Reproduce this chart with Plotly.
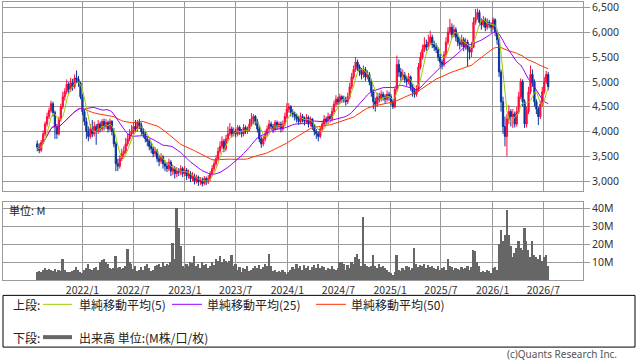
import pandas as pd
import plotly.graph_objects as go

# ---------------- data (weekly) ----------------
start_date = "2021-07-24"

close = [
    3680, 3620, 3780, 3950, 4150, 4300, 4420, 4560, 4380, 4100,
    3950, 4250, 4500, 4700, 4800, 4950, 4850, 4980, 4900, 5080,
    5050, 4980, 4700, 4400, 4200, 4000, 3900, 4050, 3950, 4100,
    4000, 4150, 4050, 4200, 4100, 4180, 4050, 4200, 4000, 3750,
    3350, 3300, 3450, 3550, 3600, 3750, 3850, 3950, 4000, 4100,
    4050, 4180, 4120, 4000, 3950, 3850, 3800, 3700, 3650, 3550,
    3600, 3450, 3400, 3480, 3350, 3300, 3250, 3380, 3200, 3250,
    3150, 3200, 3180, 3250, 3150, 3220, 3100, 3150, 3050, 3100,
    3000, 3080, 2980, 3020, 2950, 3050, 2980, 3050, 3150, 3250,
    3350, 3450, 3600, 3700, 3800, 3650, 3850, 3950, 4050, 3950,
    4000, 3950, 4080, 4000, 3950, 4080, 4000, 4050, 4150, 4250,
    4300, 4200, 4050, 3850, 3750, 3850, 3950, 4050, 4150, 4100,
    4050, 4180, 4100, 4150, 4050, 4150, 4300, 4450, 4500, 4380,
    4350, 4300, 4250, 4200, 4300, 4250, 4200, 4280, 4150, 4250,
    4100, 4000, 3950, 3900, 4050, 4150, 4250, 4200, 4300, 4250,
    4400, 4550, 4650, 4600, 4700, 4650, 4650, 4600, 4700, 4900,
    5100, 5250, 5400, 5300, 5200, 5150, 5250, 5100, 5150, 5000,
    4800, 4600, 4550, 4700, 4650, 4750, 4700, 4650, 4750, 4700,
    4600, 4500, 4850, 5350, 5200, 5100, 5150, 5050, 5000, 5100,
    4900, 4800, 4750, 4850, 5300, 5500, 5650, 5750, 5700, 5800,
    5900, 5750, 5700, 5650, 5500, 5400, 5350, 5550, 5800, 6000,
    6100, 5950, 6050, 5900, 5800, 5750, 5850, 5700, 5800, 5650,
    5600, 5700, 6200, 6300, 6400, 6200, 6150, 6250, 6100, 6200,
    6150, 6100, 6250, 6000, 5850, 5200, 4600, 4100, 3900, 4250,
    4400, 4300, 4350, 4150, 4400, 4700, 5000, 4600, 4150, 4400,
    4800, 5150, 5000, 4600, 4450, 4300, 4550, 4800, 5000, 5150,
    4900,
]

open_ = [
    3750, 3680, 3620, 3780, 3950, 4150, 4300, 4420, 4560, 4380,
    4100, 3950, 4250, 4500, 4700, 4800, 4950, 4850, 4980, 4900,
    5080, 5050, 4980, 4700, 4400, 4200, 4000, 3900, 4050, 3950,
    4100, 4000, 4150, 4050, 4200, 4100, 4180, 4050, 4200, 4000,
    3750, 3350, 3300, 3450, 3550, 3600, 3750, 3850, 3950, 4000,
    4100, 4050, 4180, 4120, 4000, 3950, 3850, 3800, 3700, 3650,
    3550, 3600, 3450, 3400, 3480, 3350, 3300, 3250, 3380, 3200,
    3250, 3150, 3200, 3180, 3250, 3150, 3220, 3100, 3150, 3050,
    3100, 3000, 3080, 2980, 3020, 2950, 3050, 2980, 3050, 3150,
    3250, 3350, 3450, 3600, 3700, 3800, 3650, 3850, 3950, 4050,
    3950, 4000, 3950, 4080, 4000, 3950, 4080, 4000, 4050, 4150,
    4250, 4300, 4200, 4050, 3850, 3750, 3850, 3950, 4050, 4150,
    4100, 4050, 4180, 4100, 4150, 4050, 4150, 4300, 4450, 4500,
    4380, 4350, 4300, 4250, 4200, 4300, 4250, 4200, 4280, 4150,
    4250, 4100, 4000, 3950, 3900, 4050, 4150, 4250, 4200, 4300,
    4250, 4400, 4550, 4650, 4600, 4700, 4650, 4650, 4600, 4700,
    4900, 5100, 5250, 5400, 5300, 5200, 5150, 5250, 5100, 5150,
    5000, 4800, 4600, 4550, 4700, 4650, 4750, 4700, 4650, 4750,
    4700, 4600, 4500, 4850, 5350, 5200, 5100, 5150, 5050, 5000,
    5100, 4900, 4800, 4750, 4850, 5300, 5500, 5650, 5750, 5700,
    5800, 5900, 5750, 5700, 5650, 5500, 5400, 5350, 5550, 5800,
    6000, 6100, 5950, 6050, 5900, 5800, 5750, 5850, 5700, 5800,
    5650, 5600, 5700, 6200, 6300, 6400, 6200, 6150, 6250, 6100,
    6200, 6150, 6100, 6250, 6000, 5850, 5200, 4600, 4100, 3900,
    4250, 4400, 4300, 4350, 4150, 4400, 4700, 5000, 4600, 4150,
    4400, 4800, 5150, 5000, 4600, 4450, 4300, 4550, 4800, 5000,
    5150,
]

high = [
    3820, 3760, 3830, 4020, 4200, 4380, 4480, 4620, 4600, 4420,
    4150, 4300, 4560, 4800, 4870, 5050, 5000, 5080, 5060, 5150,
    5230, 5120, 5000, 4750, 4450, 4280, 4100, 4150, 4230, 4200,
    4150, 4230, 4200, 4250, 4260, 4250, 4220, 4260, 4230, 4070,
    3800, 3450, 3520, 3650, 3700, 3870, 3950, 4050, 4130, 4180,
    4230, 4230, 4250, 4180, 4070, 4000, 3900, 3850, 3780, 3700,
    3680, 3650, 3520, 3560, 3520, 3420, 3380, 3450, 3420, 3330,
    3300, 3280, 3260, 3320, 3290, 3300, 3260, 3230, 3200, 3180,
    3150, 3130, 3110, 3080, 3070, 3100, 3090, 3120, 3200, 3320,
    3420, 3520, 3680, 3800, 3900, 3850, 3930, 4100, 4170, 4100,
    4080, 4050, 4130, 4120, 4050, 4150, 4120, 4100, 4250, 4370,
    4350, 4330, 4250, 4100, 3900, 3920, 4020, 4120, 4230, 4200,
    4150, 4230, 4220, 4200, 4200, 4220, 4380, 4570, 4570, 4530,
    4450, 4400, 4360, 4320, 4380, 4350, 4300, 4350, 4320, 4300,
    4270, 4150, 4050, 4000, 4100, 4220, 4330, 4300, 4380, 4350,
    4480, 4620, 4730, 4700, 4760, 4730, 4720, 4700, 4780, 4980,
    5180, 5330, 5500, 5450, 5350, 5280, 5330, 5300, 5230, 5200,
    5050, 4850, 4680, 4780, 4780, 4830, 4800, 4750, 4830, 4800,
    4750, 4650, 4900, 5530, 5450, 5280, 5250, 5200, 5120, 5180,
    5130, 4950, 4880, 4930, 5380, 5600, 5750, 5900, 5850, 5950,
    6030, 5950, 5830, 5780, 5700, 5560, 5450, 5620, 5900, 6100,
    6270, 6180, 6150, 6100, 5980, 5880, 5950, 5900, 5880, 5850,
    5720, 5800, 6300, 6470, 6480, 6450, 6280, 6330, 6300, 6280,
    6250, 6200, 6300, 6280, 6050, 5900, 5250, 4700, 4300, 4350,
    4530, 4450, 4450, 4400, 4500, 4800, 5070, 5050, 4650, 4500,
    4900, 5330, 5250, 5050, 4650, 4500, 4620, 4900, 5100, 5220,
    5200,
]

low = [
    3600, 3560, 3580, 3740, 3900, 4100, 4250, 4380, 4300, 3850,
    3850, 3920, 4200, 4450, 4620, 4750, 4760, 4800, 4820, 4860,
    4980, 4900, 4650, 4330, 4120, 3850, 3800, 3850, 3880, 3900,
    3730, 3950, 3980, 4000, 4020, 4050, 3980, 4000, 3920, 3680,
    3200, 3200, 3250, 3400, 3480, 3550, 3700, 3800, 3900, 3950,
    3980, 4000, 4050, 3930, 3870, 3780, 3700, 3620, 3560, 3480,
    3500, 3380, 3300, 3350, 3250, 3200, 3180, 3200, 3100, 3120,
    3050, 3080, 3100, 3120, 3080, 3100, 3020, 3050, 2980, 3000,
    2930, 2950, 2900, 2920, 2890, 2910, 2920, 2940, 3000, 3100,
    3200, 3300, 3400, 3550, 3650, 3580, 3600, 3800, 3900, 3880,
    3900, 3880, 3900, 3930, 3880, 3900, 3950, 3950, 4000, 4100,
    4150, 4120, 3980, 3780, 3670, 3700, 3800, 3900, 4000, 4030,
    3970, 4000, 4030, 4050, 3980, 4000, 4100, 4250, 4380, 4300,
    4280, 4220, 4180, 4130, 4150, 4180, 4120, 4150, 4080, 4100,
    4030, 3920, 3850, 3800, 3860, 4000, 4100, 4130, 4150, 4180,
    4200, 4350, 4500, 4530, 4550, 4580, 4580, 4520, 4550, 4650,
    4850, 5050, 5200, 5220, 5120, 5050, 5080, 5020, 5050, 4930,
    4700, 4450, 4400, 4500, 4580, 4600, 4620, 4570, 4600, 4620,
    4520, 4450, 4470, 4800, 5100, 5000, 5030, 4980, 4920, 4950,
    4820, 4700, 4680, 4700, 4800, 5250, 5450, 5600, 5620, 5650,
    5750, 5680, 5620, 5580, 5420, 5300, 5250, 5300, 5500, 5750,
    5950, 5880, 5900, 5820, 5720, 5650, 5700, 5620, 5650, 5300,
    5450, 5500, 5680, 6150, 6250, 6130, 6050, 6100, 6020, 6050,
    6080, 6000, 6050, 5920, 5750, 5100, 4400, 3950, 3700, 3500,
    4150, 4100, 4070, 4080, 4100, 4350, 4650, 4500, 4070, 4080,
    4350, 4750, 4900, 4500, 4350, 4130, 4250, 4500, 4750, 4950,
    4830,
]

volume_m = [
    4.5, 5.5, 5, 6, 7, 6, 6.5, 6, 5.5, 6.5,
    5, 6, 5.5, 12, 6, 5, 4.5, 5, 5.5, 6,
    7.5, 6, 5, 4, 6, 7, 9, 6.5, 6, 7,
    7.5, 6, 10, 11.5, 12, 10, 9, 7, 6.5, 7,
    13.5, 7, 7.5, 6.5, 7, 8, 17.5, 10, 9, 6.5,
    8, 5.5, 6, 7.5, 6, 8, 9, 7, 5.5, 6,
    8, 8.5, 9, 7.5, 10, 8, 9, 8.5, 10, 21,
    12, 40, 29, 19, 8, 7, 9, 8, 10, 9.5,
    13.5, 8, 9, 7, 10, 8.5, 9, 7, 8, 10,
    8.5, 12, 11, 13.5, 10, 12, 11, 9.5, 11, 14,
    8, 9, 6, 7.5, 5, 7, 6.5, 8, 5.5, 6,
    7, 8, 7, 8.5, 6.5, 7.5, 9, 8, 14.5, 8,
    5.5, 6, 5, 5.5, 4.5, 6, 5, 3.5, 5, 6,
    7.5, 6.5, 9, 7, 8, 6, 8.5, 7, 8, 6,
    7.5, 8.5, 7, 9, 7, 8, 7.5, 6, 7, 6.5,
    8, 6.5, 6, 7, 10, 10, 9, 6, 8.5, 7,
    10, 9, 13, 14.5, 12, 8, 35, 9, 8, 7.5,
    8, 14, 8, 7, 9, 7.5, 8, 7, 6, 5,
    4, 3, 4.5, 14, 6, 5.5, 7, 6, 8, 7.5,
    6, 7, 18, 9, 7.5, 8.5, 8, 9, 7, 8.5,
    7.5, 8, 7, 6.5, 8, 6, 7, 7.5, 6, 12,
    8, 7.5, 6, 7, 6.5, 6, 7.5, 6.5, 7, 8,
    6, 7.5, 17, 16.5, 10, 8, 5, 5.5, 5, 6,
    5.5, 4, 7, 7.5, 6, 20, 28, 22, 25, 39,
    25, 19, 13, 15, 18, 22, 18, 17, 29, 22,
    17, 13, 22, 14, 13, 12, 14, 11, 13, 14,
    8,
]

tick_dates = ["2022-01-01", "2022-07-01", "2023-01-01", "2023-07-01", "2024-01-01",
              "2024-07-01", "2025-01-01", "2025-07-01", "2026-01-01", "2026-07-01"]
tick_labels = ["2022/1", "2022/7", "2023/1", "2023/7", "2024/1",
               "2024/7", "2025/1", "2025/7", "2026/1", "2026/7"]
price_ticks = [3000, 3500, 4000, 4500, 5000, 5500, 6000, 6500]
vol_ticks = [10, 20, 30, 40]
vol_tick_labels = ["10M", "20M", "30M", "40M"]

assert len(close) == len(open_) == len(high) == len(low) == len(volume_m), (
    len(close), len(open_), len(high), len(low), len(volume_m))

dates = pd.date_range(start_date, periods=len(close), freq="7D")
s = pd.Series(close, dtype=float)
ma5 = s.rolling(5, min_periods=1).mean()
ma25 = s.rolling(25, min_periods=1).mean()
ma50 = s.rolling(50, min_periods=1).mean()

# ---------------- figure ----------------
W, H = 638, 362
def px(x):
    return x / W
def py(y):
    return 1 - y / H

UP = "#ff0a3c"
DOWN = "#0a3399"
GRID = "#9a9a9a"
C5, C25, C50 = "#99cc00", "#9900ff", "#ff3300"
VOLC = "#666666"
FONT = "Noto Sans CJK JP"

fig = go.Figure()
fig.add_trace(go.Candlestick(
    x=dates, open=open_, high=high, low=low, close=close,
    increasing=dict(line=dict(color=UP, width=1), fillcolor=UP),
    decreasing=dict(line=dict(color=DOWN, width=1), fillcolor=DOWN),
    xaxis="x", yaxis="y", showlegend=False, hoverinfo="skip"))
for ma, col in ((ma50, C50), (ma25, C25), (ma5, C5)):
    fig.add_trace(go.Scatter(x=dates, y=ma, mode="lines", line=dict(color=col, width=1),
                             xaxis="x", yaxis="y", showlegend=False, hoverinfo="skip"))
fig.add_trace(go.Bar(x=dates, y=volume_m, marker=dict(color=VOLC, line=dict(width=0)),
                     width=7 * 86400000 * 0.92, xaxis="x2", yaxis="y2",
                     showlegend=False, hoverinfo="skip"))

xr = ["2021-03-24", "2026-11-19"]
axis_common = dict(showgrid=True, gridcolor=GRID, gridwidth=1, showline=True,
                   linecolor=GRID, linewidth=1, mirror=True, zeroline=False)
fig.update_layout(
    width=W, height=H, margin=dict(l=0, r=0, t=0, b=0),
    paper_bgcolor="white", plot_bgcolor="white",
    font=dict(family=FONT, size=11, color="#222"),
    boxgap=0.1,
    xaxis=dict(domain=[px(3), px(583)], range=xr, type="date", anchor="y",
               tickvals=tick_dates, showticklabels=False, ticks="",
               rangeslider=dict(visible=False), **axis_common),
    yaxis=dict(domain=[py(190), py(0.5)], range=[2800, 6600], side="right", anchor="x",
               tickvals=price_ticks, tickformat=",", ticks="outside", ticklen=6,
               tickcolor=GRID, ticklabeloverflow="allow",
               tickfont=dict(family="Noto Sans", size=10.5, color="#333"),
               **axis_common),
    xaxis2=dict(domain=[px(3), px(583)], range=xr, type="date", anchor="y2",
                tickvals=tick_dates, ticktext=tick_labels, ticks="",
                tickfont=dict(family=FONT, size=10.5, color="#333"), **axis_common),
    yaxis2=dict(domain=[py(280), py(201)], range=[0, 43.4], side="right", anchor="x2",
                tickvals=vol_ticks, ticktext=vol_tick_labels, ticks="outside", ticklen=6,
                tickcolor=GRID, tickfont=dict(family="Noto Sans", size=10.5, color="#333"),
                **axis_common),
    bargap=0,
)

shapes = [
    dict(type="rect", xref="paper", yref="paper", x0=px(3), x1=px(635), y0=py(347), y1=py(295),
         line=dict(color="black", width=1), fillcolor="rgba(0,0,0,0)"),
    dict(type="line", xref="paper", yref="paper", x0=px(43), x1=px(72), y0=py(304), y1=py(304),
         line=dict(color=C5, width=1)),
    dict(type="line", xref="paper", yref="paper", x0=px(172), x1=px(202), y0=py(304), y1=py(304),
         line=dict(color=C25, width=1)),
    dict(type="line", xref="paper", yref="paper", x0=px(316), x1=px(346), y0=py(304), y1=py(304),
         line=dict(color=C50, width=1)),
    dict(type="line", xref="paper", yref="paper", x0=px(43), x1=px(72), y0=py(337), y1=py(337),
         line=dict(color=VOLC, width=4)),
]
fig.update_layout(shapes=shapes)

def ann(text, x, y, size=12, color="#222", xanchor="left", family=FONT):
    fig.add_annotation(text=text, xref="paper", yref="paper", x=px(x), y=py(y),
                       xanchor=xanchor, yanchor="middle", showarrow=False,
                       font=dict(family=family, size=size, color=color))

ann("上段:", 11, 304)
ann("単純移動平均(5)", 77, 304)
ann("単純移動平均(25)", 205, 304)
ann("単純移動平均(50)", 349, 304)
ann("下段:", 11, 337)
ann("出来高 単位:(M株/口/枚)", 77, 337)
ann("単位: M", 7, 209, size=11)
ann("(c)Quants Research Inc.", 619, 354, size=10, color="#555", xanchor="right", family="Noto Sans")

fig.write_html("out.html")
